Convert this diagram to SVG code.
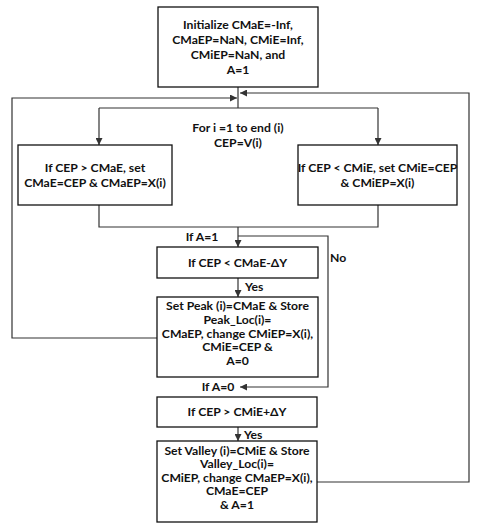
<svg xmlns="http://www.w3.org/2000/svg" width="479" height="531" viewBox="0 0 479 531">
<defs>
<marker id="ah" viewBox="0 0 10 10" refX="10" refY="5" markerWidth="7" markerHeight="7" markerUnits="userSpaceOnUse" orient="auto">
<path d="M0,0 L10,5 L0,10 z" fill="#333"/>
</marker>
<style>
.box{fill:#fff;stroke:#111;stroke-width:1.3}
.t{font-family:Lato,"Liberation Sans",sans-serif;font-weight:bold;font-size:12.2px;fill:#111;text-anchor:middle}
.l{font-family:Lato,"Liberation Sans",sans-serif;font-weight:bold;font-size:12.2px;fill:#111}
.c{fill:none;stroke:#333;stroke-width:1.2}
</style>
</defs>
<rect width="479" height="531" fill="#fff"/>
<g id="connectors">
<path class="c" d="M238,87 V108"/>
<path class="c" d="M99,108 H378"/>
<path class="c" d="M99,108 V145" marker-end="url(#ah)"/>
<path class="c" d="M378,108 V145" marker-end="url(#ah)"/>
<path class="c" d="M157,338 H12 V98 H237" marker-end="url(#ah)"/>
<path class="c" d="M317,482 H469 V93 H240" marker-end="url(#ah)"/>
<path class="c" d="M99,205 V227 H378 V205"/>
<path class="c" d="M238,227 V247" marker-end="url(#ah)"/>
<path class="c" d="M238,236 H328 V387 H240" marker-end="url(#ah)"/>
<path class="c" d="M238,278 V297" marker-end="url(#ah)"/>
<path class="c" d="M238,427 V441" marker-end="url(#ah)"/>
<text class="t" x="238" y="132">For i =1 to end (i)</text>
<text class="t" x="238" y="147">CEP=V(i)</text>
<text class="t" x="202" y="241">If A=1</text>
<text class="l" x="330" y="262">No</text>
<text class="l" x="245" y="291">Yes</text>
<text class="t" x="218" y="391">If A=0</text>
<text class="l" x="244" y="439">Yes</text>
</g>
<g id="init">
<rect class="box" x="158" y="7" width="160" height="80"/>
<text class="t" x="238" y="29">Initialize CMaE=-Inf,</text>
<text class="t" x="238" y="43.5">CMaEP=NaN, CMiE=Inf,</text>
<text class="t" x="238" y="58.5">CMiEP=NaN, and</text>
<text class="t" x="238" y="74">A=1</text>
</g>
<g id="maxcheck">
<rect class="box" x="18" y="145" width="154" height="60"/>
<text class="t" x="95" y="172">If CEP &gt; CMaE, set</text>
<text class="t" x="95" y="187">CMaE=CEP &amp; CMaEP=X(i)</text>
</g>
<g id="mincheck">
<rect class="box" x="298" y="145" width="159" height="60"/>
<text class="t" x="377.5" y="172">If CEP &lt; CMiE, set CMiE=CEP</text>
<text class="t" x="377.5" y="187">&amp; CMiEP=X(i)</text>
</g>
<g id="peakcond">
<rect class="box" x="157" y="247" width="161" height="31"/>
<text class="t" x="237.5" y="266.5">If CEP &lt; CMaE-ΔY</text>
</g>
<g id="peak">
<rect class="box" x="157" y="297" width="161" height="80"/>
<text class="t" x="237.5" y="310">Set Peak (i)=CMaE &amp; Store</text>
<text class="t" x="237.5" y="324">Peak_Loc(i)=</text>
<text class="t" x="237.5" y="337.5">CMaEP, change CMiEP=X(i),</text>
<text class="t" x="237.5" y="351">CMiE=CEP &amp;</text>
<text class="t" x="237.5" y="364.5">A=0</text>
</g>
<g id="valleycond">
<rect class="box" x="157" y="397" width="160" height="30"/>
<text class="t" x="237" y="416">If CEP &gt; CMiE+ΔY</text>
</g>
<g id="valley">
<rect class="box" x="157" y="441" width="160" height="81"/>
<text class="t" x="237" y="454.5">Set Valley (i)=CMiE &amp; Store</text>
<text class="t" x="237" y="468">Valley_Loc(i)=</text>
<text class="t" x="237" y="481.5">CMiEP, change CMaEP=X(i),</text>
<text class="t" x="237" y="495">CMaE=CEP</text>
<text class="t" x="237" y="508.5">&amp; A=1</text>
</g>
</svg>
